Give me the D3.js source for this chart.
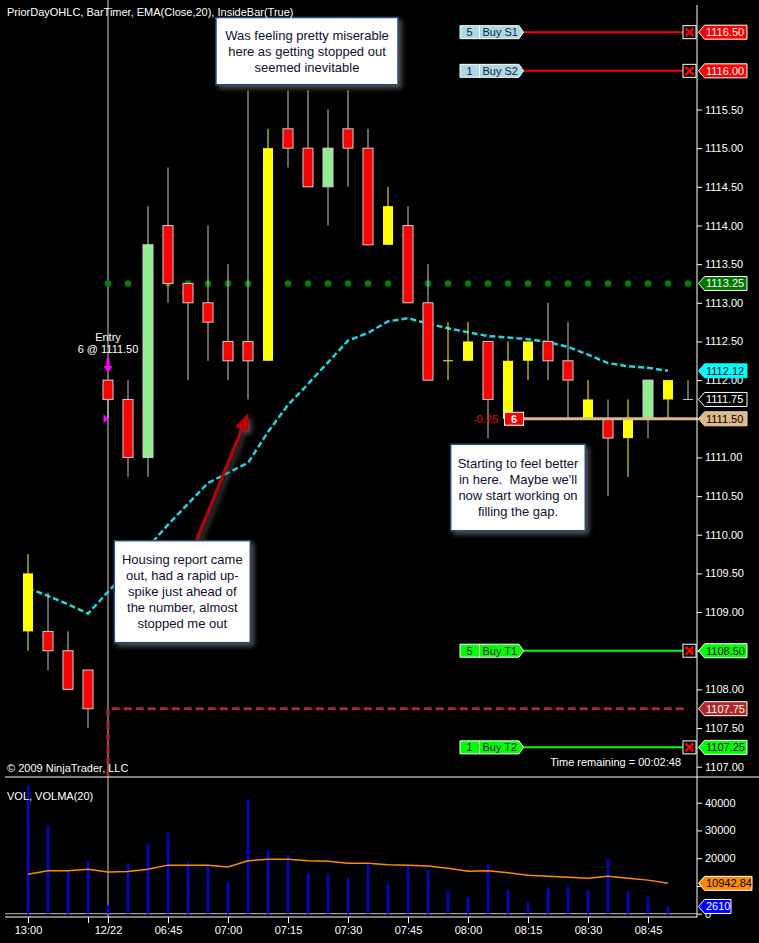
<!DOCTYPE html>
<html><head><meta charset="utf-8">
<script src="https://cdn.jsdelivr.net/npm/d3@7"></script>
<style>
body{margin:0;background:#000;}
svg{display:block;font-family:"Liberation Sans",Arial,sans-serif;}
</style>
</head><body>
<svg id="c" width="759" height="943"></svg>
<script>
// ---------- DATA ----------
const times = ["13:00","13:05","13:10","13:15",
  "06:30","06:35","06:40","06:45","06:50","06:55","07:00","07:05","07:10","07:15","07:20","07:25",
  "07:30","07:35","07:40","07:45","07:50","07:55","08:00","08:05","08:10","08:15","08:20","08:25",
  "08:30","08:35","08:40","08:45","08:50","08:55"];
const opens  = [1109.50,1108.75,1108.50,1108.25,1112.00,1111.75,1111.00,1114.00,1113.25,1113.00,1112.50,1112.50,1112.25,1115.25,1115.00,1114.50,1115.25,1115.00,1113.75,1114.00,1113.00,1112.25,1112.50,1112.50,1111.50,1112.25,1112.50,1112.25,1111.75,1111.50,1111.25,1111.50,1112.00,1111.75];
const highs  = [1109.75,1109.25,1108.75,1108.25,1112.00,1112.00,1114.25,1114.75,1113.25,1114.00,1113.50,1115.75,1115.25,1115.75,1115.75,1115.50,1115.75,1115.25,1114.50,1114.25,1113.50,1112.75,1112.75,1112.50,1112.50,1112.50,1113.00,1112.75,1112.00,1111.75,1111.75,1112.00,1112.00,1112.00];
const lows   = [1108.50,1108.25,1108.00,1107.50,1111.50,1110.75,1110.75,1113.00,1112.00,1112.25,1112.00,1111.75,1112.25,1114.75,1114.50,1114.00,1114.50,1113.75,1113.75,1113.00,1112.00,1112.00,1112.25,1111.25,1111.50,1112.00,1112.00,1111.50,1111.50,1110.50,1110.75,1111.25,1111.50,1111.75];
const closes = [1108.75,1108.50,1108.00,1107.75,1111.75,1111.00,1113.75,1113.25,1113.00,1112.75,1112.25,1112.25,1115.00,1115.00,1114.50,1115.00,1115.00,1113.75,1114.25,1113.00,1112.00,1112.25,1112.25,1111.75,1112.25,1112.50,1112.25,1112.00,1111.50,1111.25,1111.50,1112.00,1111.75,1111.75];
const insideBar = [1,0,0,0,0,0,0,0,0,0,0,0,1,0,0,0,0,0,1,0,0,1,1,0,1,1,0,0,1,0,1,0,1,0];
const ema20 = [1109.31,1109.21,1109.10,1108.98,1109.26,1109.54,1109.84,1110.13,1110.40,1110.67,1110.80,1110.93,1111.33,1111.68,1111.95,1112.23,1112.51,1112.61,1112.76,1112.80,1112.73,1112.67,1112.62,1112.57,1112.55,1112.53,1112.49,1112.43,1112.33,1112.22,1112.18,1112.16,1112.12];
const volumes = [46100,31700,15500,19000,3100,18300,25200,29100,18600,17800,11400,41400,22900,21200,14700,14300,12800,17700,10700,17200,15800,8500,6000,17900,8600,4000,9300,10000,8600,19900,8200,6000,2610];
const volMA20 = [14200,15500,15500,16000,15000,15200,16000,17500,17500,17500,16800,19100,19600,19600,19100,18900,18200,18200,17600,17500,17200,16400,15300,15500,14800,13900,13500,13100,12800,13500,12800,12100,10942.84];
const priceTicks = [1107.00,1107.50,1108.00,1108.50,1109.00,1109.50,1110.00,1110.50,1111.00,1111.50,1112.00,1112.50,1113.00,1113.50,1114.00,1114.50,1115.00,1115.50];
const volTicks = [0,10000,20000,30000,40000];
const xTickBars = [0,3,4,7,10,13,16,19,22,25,28,31];
const xTickLabels = ["13:00","","12/22","06:45","07:00","07:15","07:30","07:45","08:00","08:15","08:30","08:45"];
const orderQty = [5,1,5,1];
const orderNames = ["Buy S1","Buy S2","Buy T1","Buy T2"];
const orderPrices = [1116.50,1116.00,1108.50,1107.25];
const orderKind = ["stop","stop","target","target"];
const priorDayClose = 1107.75;
const priorDayLevel = 1113.25;
const entryPrice = 1111.50, entryQty = 6, entryBar = 4, openPnL = "-0.25";
const lastPrice = 1111.75;
const title = "PriorDayOHLC, BarTimer, EMA(Close,20), InsideBar(True)";
const note1 = ["Was feeling pretty miserable","here as getting stopped out","seemed inevitable"];
const note2 = ["Housing report came","out, had a rapid up-","spike just ahead of","the number, almost","stopped me out"];
const note3 = ["Starting to feel better","in here.  Maybe we'll","now start working on","filling the gap."];

// ---------- SETUP ----------
const svg = d3.select("#c");
const W = 759, plotL = 5, plotR = 697, priceBottom = 777, volBottom = 917;
const n = times.length;
const xi = d3.scaleLinear().domain([0, n-1]).range([28, 688]);
const y = d3.scaleLinear().domain([1107, 1115.5]).range([766.7, 109.5]);
const yv = d3.scaleLinear().domain([0, 40000]).range([913.7, 802.7]);
const f2 = d3.format(".2f");

svg.append("rect").attr("width", W).attr("height", 943).attr("fill", "#000");
const defs = svg.append("defs");
const sh = defs.append("filter").attr("id","shadow").attr("x","-20%").attr("y","-20%").attr("width","150%").attr("height","150%");
sh.append("feDropShadow").attr("dx",3).attr("dy",3).attr("stdDeviation",2.5).attr("flood-color","#5a5a5a").attr("flood-opacity",0.9);

// session break line
svg.append("line").attr("x1", xi(entryBar)).attr("x2", xi(entryBar)).attr("y1", 0).attr("y2", volBottom)
  .attr("stroke", "#c8c8c8").attr("stroke-width", 1);

// prior day level dots
svg.append("g").selectAll("circle").data(d3.range(entryBar, n)).join("circle")
  .attr("cx", d => xi(d)).attr("cy", y(priorDayLevel)).attr("r", 3.3).attr("fill", "#008000");

// prior day close dashed
svg.append("path")
  .attr("d", `M${xi(entryBar)},${priceBottom} L${xi(entryBar)},${y(priorDayClose)} L${xi(n-1)},${y(priorDayClose)}`)
  .attr("fill","none").attr("stroke","#a82a2a").attr("stroke-width",3).attr("stroke-dasharray","8,4");

// EMA
svg.append("path").datum(ema20)
  .attr("d", d3.line().x((d,i)=>xi(i)).y(d=>y(d)))
  .attr("fill","none").attr("stroke","#1ed6e2").attr("stroke-width",2.5).attr("stroke-dasharray","6,3");

// candles
const cg = svg.append("g");
times.forEach((t, i) => {
  const o = opens[i], h = highs[i], l = lows[i], c = closes[i];
  const ins = insideBar[i] === 1;
  const col = ins ? "#ffff00" : (c > o ? "#90ee90" : (c < o ? "#ff0000" : "#c8c8c8"));
  const wick = ins ? "#ffff00" : "#c8c8c8";
  const cx = xi(i);
  cg.append("line").attr("x1", cx).attr("x2", cx).attr("y1", y(h)).attr("y2", y(l))
    .attr("stroke", wick).attr("stroke-width", 1);
  if (o !== c) {
    cg.append("rect").attr("x", cx - 5).attr("width", 10)
      .attr("y", y(Math.max(o, c))).attr("height", Math.abs(y(o) - y(c)))
      .attr("fill", col).attr("stroke", ins ? "none" : "#d0d0d0").attr("stroke-width", 1);
  } else {
    cg.append("line").attr("x1", cx - 5).attr("x2", cx + 5).attr("y1", y(o)).attr("y2", y(o))
      .attr("stroke", col).attr("stroke-width", 1);
  }
});

// orders
const og = svg.append("g").attr("font-size", 11);
orderPrices.forEach((p, k) => {
  const yy = y(p);
  const stop = orderKind[k] === "stop";
  const lineCol = stop ? "#ff0000" : "#00ff00";
  const bg = stop ? "#add8e6" : "#00ff00";
  const lx0 = 460, lx1 = 519;
  og.append("line").attr("x1", 523).attr("x2", plotR - 14).attr("y1", yy).attr("y2", yy)
    .attr("stroke", lineCol).attr("stroke-width", 2);
  og.append("path").attr("d", `M${lx0},${yy-6.5} L${lx1},${yy-6.5} L${lx1+4.5},${yy} L${lx1},${yy+6.5} L${lx0},${yy+6.5} Z`)
    .attr("fill", bg).attr("stroke", "#ffffff").attr("stroke-width", 1);
  og.append("line").attr("x1", 479.5).attr("x2", 479.5).attr("y1", yy-6.5).attr("y2", yy+6.5)
    .attr("stroke", "#ffffff").attr("stroke-width", 1);
  og.append("text").attr("x", 469.5).attr("y", yy).attr("dy","0.36em").attr("text-anchor","middle")
    .attr("fill","#1a1a40").text(orderQty[k]);
  og.append("text").attr("x", 482.5).attr("y", yy).attr("dy","0.36em")
    .attr("fill","#1a1a40").text(orderNames[k]);
  og.append("rect").attr("x", plotR - 14).attr("y", yy - 6.5).attr("width", 13).attr("height", 13)
    .attr("fill","#000").attr("stroke","#ffffff").attr("stroke-width",1);
  og.append("path").attr("d", `M${plotR-11.5},${yy-4} L${plotR-3.5},${yy+4} M${plotR-3.5},${yy-4} L${plotR-11.5},${yy+4}`)
    .attr("stroke","#ff0000").attr("stroke-width",2.5);
});

// entry / position line
const ey = y(entryPrice);
svg.append("line").attr("x1", 523).attr("x2", plotR).attr("y1", ey).attr("y2", ey)
  .attr("stroke","#deb887").attr("stroke-width",3);
svg.append("rect").attr("x", 504.5).attr("y", ey - 6.5).attr("width", 19).attr("height", 13)
  .attr("fill","#ff0000").attr("stroke","#ffffff").attr("stroke-width",1);
svg.append("text").attr("x", 514).attr("y", ey).attr("dy","0.36em").attr("text-anchor","middle")
  .attr("fill","#fff").attr("font-size",11).attr("font-weight","bold").text(entryQty);
svg.append("text").attr("x", 498).attr("y", ey).attr("dy","0.36em").attr("text-anchor","end")
  .attr("fill","#ff0000").attr("font-size",11).text(openPnL);

// entry marker
const ex = xi(entryBar);
const tipY = y(highs[entryBar]) - 7;
svg.append("path").attr("d", `M${ex-1.5},${tipY-15} L${ex+1.5},${tipY-15} L${ex+1.5},${tipY-7} L${ex+4.5},${tipY-7} L${ex},${tipY} L${ex-4.5},${tipY-7} L${ex-1.5},${tipY-7} Z`)
  .attr("fill","#ff00ff");
svg.append("path").attr("d", `M${ex-4.5},${ey-4.5} L${ex+0.5},${ey} L${ex-4.5},${ey+4.5} Z`).attr("fill","#ff00ff");
svg.append("text").attr("x", ex).attr("y", tipY - 32).attr("text-anchor","middle").attr("fill","#fff").attr("font-size",11).text("Entry");
svg.append("text").attr("x", ex).attr("y", tipY - 20).attr("text-anchor","middle").attr("fill","#fff").attr("font-size",11)
  .text(`${entryQty} @ ${f2(entryPrice)}`);

// annotations
function note(lines, i0, p0, i1, p1) {
  const x0 = xi(i0), x1 = xi(i1), y0 = y(p0), y1 = y(p1);
  const g = svg.append("g");
  g.append("rect").attr("x", x0).attr("y", y0).attr("width", x1 - x0).attr("height", y1 - y0)
    .attr("fill","#ffffff").attr("stroke","#29487a").attr("stroke-width",1.5).attr("filter","url(#shadow)");
  const lh = 16, cy = (y0 + y1) / 2, start = cy - (lines.length - 1) * lh / 2;
  lines.forEach((s, k) => {
    g.append("text").attr("x", (x0 + x1) / 2).attr("y", start + k * lh).attr("dy","0.35em")
      .attr("text-anchor","middle").attr("font-size",13).attr("fill","#101030")
      .style("white-space","pre").text(s);
  });
}
// arrow
(function(){
  const ax0 = xi(8.43), ay0 = y(1109.93), ax1 = xi(11.01), ay1 = y(1111.57);
  const ang = Math.atan2(ay1 - ay0, ax1 - ax0);
  const L = 17, Wd = 7;
  const bx = ax1 - L * Math.cos(ang), by = ay1 - L * Math.sin(ang);
  const px = -Math.sin(ang) * Wd, py = Math.cos(ang) * Wd;
  const g = svg.append("g").attr("filter","url(#shadow)");
  g.append("line").attr("x1", ax0).attr("y1", ay0).attr("x2", bx).attr("y2", by)
    .attr("stroke","#c00000").attr("stroke-width",3);
  g.append("path").attr("d", `M${ax1},${ay1} L${bx+px},${by+py} L${bx-px},${by-py} Z`).attr("fill","#c00000");
})();
note(note1, 9.4, 1116.69, 18.5, 1115.82);
note(note2, 4.315, 1109.923, 11.115, 1108.604);
note(note3, 21.135, 1111.17, 27.865, 1110.052);

// ---------- AXES ----------
svg.append("line").attr("x1", plotR).attr("x2", plotR).attr("y1", 5).attr("y2", volBottom).attr("stroke","#fff");
svg.append("line").attr("x1", plotL).attr("x2", W).attr("y1", priceBottom).attr("y2", priceBottom).attr("stroke","#fff");
svg.append("line").attr("x1", plotL).attr("x2", plotR).attr("y1", volBottom).attr("y2", volBottom).attr("stroke","#fff");
svg.append("line").attr("x1", plotL).attr("x2", plotR).attr("y1", yv(0)).attr("y2", yv(0)).attr("stroke","#c0c0c0");

function styleAxis(g) {
  g.select(".domain").remove();
  g.selectAll("line").attr("stroke","#fff");
  g.selectAll("text").attr("fill","#fff").attr("font-size",11).attr("font-family",'"Liberation Sans",Arial,sans-serif');
}
// tick labels fully covered by value tags are left blank
const coveredPrice = [entryPrice, orderPrices[2]];
const coveredVol = [10000];
svg.append("g").attr("transform",`translate(${plotR},0)`)
  .call(d3.axisRight(y).tickValues(priceTicks).tickFormat(d => coveredPrice.includes(d) ? "" : f2(d)).tickSize(5).tickPadding(3)).call(styleAxis);
svg.append("g").attr("transform",`translate(${plotR},0)`)
  .call(d3.axisRight(yv).tickValues(volTicks).tickFormat(d => coveredVol.includes(d) ? "" : d3.format("d")(d)).tickSize(5).tickPadding(3)).call(styleAxis);
svg.append("g").attr("transform",`translate(0,${volBottom})`)
  .call(d3.axisBottom(xi).tickValues(xTickBars).tickFormat((d,i)=>xTickLabels[i]).tickSize(6).tickPadding(3)).call(styleAxis);

// right-side value tags
function tag(yy, label, bg, fg, stroke, right) {
  right = right || 747;
  const g = svg.append("g");
  g.append("path").attr("d", `M698.5,${yy} L704.5,${yy-7} L${right},${yy-7} L${right},${yy+7} L704.5,${yy+7} Z`)
    .attr("fill", bg).attr("stroke", stroke).attr("stroke-width", 1);
  g.append("text").attr("x", 706).attr("y", yy).attr("dy","0.36em").attr("fill", fg).attr("font-size",11).text(label);
}
orderPrices.forEach((p,k) => {
  if (orderKind[k] === "stop") tag(y(p), f2(p), "#ff0000", "#ffffff", "#ffffff");
  else tag(y(p), f2(p), "#00ff00", "#000000", "#ffffff");
});
tag(y(priorDayLevel), f2(priorDayLevel), "#007800", "#ffffff", "#ffffff");
tag(y(ema20[ema20.length-1]), f2(ema20[ema20.length-1]), "#00ffff", "#000000", "#00ffff");
tag(y(lastPrice), f2(lastPrice), "#000000", "#ffffff", "#ffffff");
tag(y(entryPrice), f2(entryPrice), "#deb887", "#000000", "#e8d8c0");
tag(y(priorDayClose), f2(priorDayClose), "#b02828", "#ffffff", "#ffffff");

// ---------- VOLUME ----------
svg.append("g").selectAll("line").data(volumes).join("line")
  .attr("x1", (d,i)=>xi(i)).attr("x2", (d,i)=>xi(i)).attr("y1", yv(0)).attr("y2", d=>yv(d))
  .attr("stroke","#0000ff").attr("stroke-width",2.2);
svg.append("path").datum(volMA20)
  .attr("d", d3.line().x((d,i)=>xi(i)).y(d=>yv(d)))
  .attr("fill","none").attr("stroke","#ff8c00").attr("stroke-width",1.5);
tag(yv(volMA20[volMA20.length-1]), f2(volMA20[volMA20.length-1]), "#ff8c00", "#000000", "#ffffff", 752);
tag(yv(volumes[volumes.length-1]), d3.format("d")(volumes[volumes.length-1]), "#0000ff", "#ffffff", "#ffffff", 731);

// ---------- TEXT ----------
svg.append("text").attr("x", 7).attr("y", 16).attr("fill","#fff").attr("font-size",11).text(title);
svg.append("text").attr("x", 7).attr("y", 799.5).attr("fill","#fff").attr("font-size",11).text("VOL, VOLMA(20)");
svg.append("text").attr("x", 7).attr("y", 772).attr("fill","#fff").attr("font-size",11).text("\u00a9 2009 NinjaTrader, LLC");
svg.append("text").attr("x", 681).attr("y", 766).attr("text-anchor","end").attr("fill","#fff").attr("font-size",11).text("Time remaining = 00:02:48");
</script>
</body></html>
